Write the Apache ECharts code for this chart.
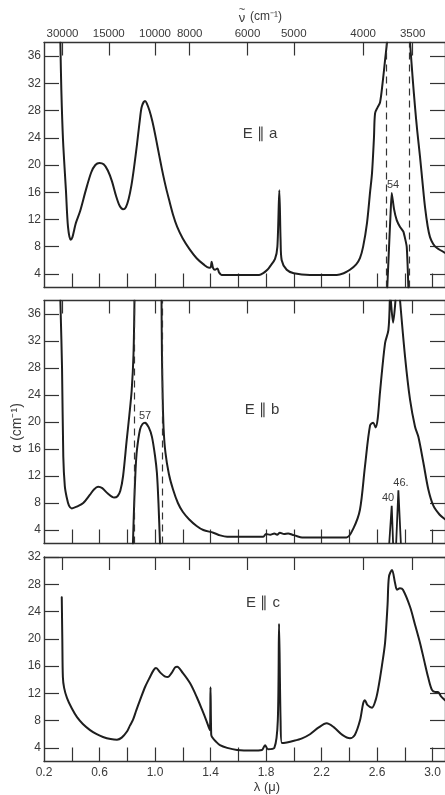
<!DOCTYPE html>
<html>
<head>
<meta charset="utf-8">
<script src="https://cdn.jsdelivr.net/npm/echarts@6/dist/echarts.min.js"></script>
<style>
html,body{margin:0;padding:0;background:#fff;}
#c{width:445px;height:795px;}
</style>
</head>
<body>
<div id="c"></div>
<script>
// ---- axis tick / label values ----
const xTickVals = [0.4,0.6,0.8,1.0,1.2,1.4,1.6,1.8,2.0,2.2,2.4,2.6,2.8,3.0];
const xLabelVals = [0.2,0.6,1.0,1.4,1.8,2.2,2.6,3.0];
const topNu = [30000,15000,10000,8000,6000,5000,4000,3500];   // wavenumber (cm^-1)
const yTicksAB = [4,8,12,16,20,24,28,32,36];
const yTicksC = [4,8,12,16,20,24,28,32];

// ---- E || a ----
const curveA = [[0.318,38],[0.325,31],[0.337,23.7],[0.358,16.3],[0.373,10.9],[0.392,9.0],[0.405,9.4],[0.418,10.5],[0.43,11.5],[0.46,13.2],[0.50,16.2],[0.54,18.9],[0.57,20.0],[0.60,20.3],[0.63,20.1],[0.66,19.2],[0.69,17.6],[0.72,15.4],[0.745,14.0],[0.77,13.5],[0.79,13.8],[0.81,15.0],[0.83,17.0],[0.85,19.8],[0.87,23.0],[0.89,26.5],[0.905,28.6],[0.928,29.4],[0.94,29.1],[0.96,28.0],[0.98,26.5],[1.0,24.6],[1.02,22.5],[1.04,20.4],[1.06,18.4],[1.08,16.6],[1.10,15.0],[1.13,12.7],[1.16,10.9],[1.2,9.2],[1.25,7.6],[1.30,6.3],[1.35,5.4],[1.39,4.9],[1.402,5.0],[1.408,5.8],[1.418,4.9],[1.432,4.6],[1.45,4.8],[1.462,4.2],[1.48,3.85],[1.75,3.85],[1.78,4.1],[1.81,4.6],[1.829,5.1],[1.865,6.2],[1.882,8],[1.896,16.3],[1.905,9],[1.913,6.0],[1.949,4.6],[2.0,4.1],[2.117,3.85],[2.31,3.85],[2.36,4.1],[2.405,4.6],[2.45,5.4],[2.477,6.3],[2.50,8.0],[2.528,11.5],[2.55,16],[2.564,18.8],[2.578,24],[2.586,27.6],[2.605,28.5],[2.622,29.2],[2.64,32],[2.658,35.4],[2.672,38],[2.75,null],[2.838,38],[2.856,33],[2.874,28.5],[2.89,25],[2.91,21.2],[2.93,17],[2.946,13.8],[2.965,11],[2.982,9.4],[3.005,8.4],[3.032,7.8],[3.09,7.1]];
const peakA54 = [[2.674,2],[2.689,9],[2.698,13],[2.706,15.9],[2.722,13.6],[2.742,11.9],[2.766,10.9],[2.79,10.2],[2.814,8.0],[2.826,2]];
const dashA = [2.665, 2.831];

// ---- E || b ----
const curveB = [[0.318,38],[0.33,28],[0.339,14.9],[0.35,10.5],[0.363,8.9],[0.38,7.6],[0.40,7.2],[0.44,7.5],[0.483,8.0],[0.53,9.2],[0.56,10.0],[0.59,10.4],[0.62,10.2],[0.66,9.4],[0.705,8.8],[0.73,9.0],[0.75,9.8],[0.77,12],[0.796,17.3],[0.815,21],[0.832,24.7],[0.845,30],[0.852,38],[0.95,null],[1.047,38],[1.05,30],[1.055,24],[1.062,19],[1.075,15.5],[1.10,12.3],[1.13,10],[1.165,8.0],[1.2,6.7],[1.245,5.6],[1.30,4.6],[1.348,4.0],[1.42,3.6],[1.47,3.2],[1.52,3.0],[1.78,3.0],[1.80,3.4],[1.83,3.3],[1.86,3.5],[1.88,3.3],[1.90,3.6],[1.93,3.4],[1.96,3.5],[1.99,3.3],[2.02,3.1],[2.06,2.9],[2.38,2.9],[2.43,4.25],[2.477,7.0],[2.513,13.4],[2.55,19.5],[2.573,19.9],[2.59,19.2],[2.605,20.5],[2.622,24.5],[2.658,31.7],[2.682,33.6],[2.692,38],[2.696,null],[2.70,38],[2.716,34.7],[2.733,38],[2.75,null],[2.766,38],[2.802,29.7],[2.838,23.3],[2.874,19.3],[2.898,17.8],[2.934,14],[2.97,10],[3.006,7.6],[3.05,6.3],[3.09,5.6]];
const peakB57 = [[0.841,2],[0.85,8],[0.86,13],[0.87,15.9],[0.892,18.9],[0.91,19.7],[0.928,19.9],[0.955,19.2],[0.978,17.8],[1.0,15],[1.014,12.4],[1.025,8],[1.036,2]];
const peakB40 = [[2.688,2],[2.706,7.6],[2.716,2]];
const peakB46 = [[2.738,2],[2.754,9.9],[2.772,2]];
const dashB = [0.851, 1.047];

// ---- E || c ----
const curveC = [[0.328,26.1],[0.332,20],[0.336,14.4],[0.345,12.8],[0.366,11.3],[0.40,9.8],[0.438,8.5],[0.48,7.5],[0.532,6.6],[0.58,6.0],[0.625,5.6],[0.68,5.3],[0.726,5.2],[0.76,5.5],[0.798,6.4],[0.82,7.3],[0.841,8.1],[0.865,9.5],[0.892,11.0],[0.93,13],[0.964,14.4],[0.99,15.4],[1.007,15.7],[1.04,15.0],[1.07,14.5],[1.094,14.4],[1.12,15.0],[1.145,15.8],[1.16,15.9],[1.2,15.0],[1.252,13.5],[1.3,11.5],[1.339,9.6],[1.37,8.0],[1.395,6.6],[1.400,12.9],[1.405,6.0],[1.411,5.6],[1.44,4.9],[1.468,4.4],[1.52,4.0],[1.591,3.7],[1.70,3.6],[1.771,3.7],[1.793,4.4],[1.814,3.8],[1.86,4.0],[1.885,8],[1.894,22.2],[1.905,8],[1.915,4.7],[1.95,4.8],[1.995,5.0],[2.06,5.4],[2.117,6.0],[2.18,7.0],[2.237,7.6],[2.29,7.0],[2.35,5.9],[2.405,5.4],[2.44,5.9],[2.477,8.0],[2.50,10.5],[2.513,11.0],[2.53,10.3],[2.564,9.9],[2.59,11],[2.607,12.5],[2.635,16],[2.658,19.4],[2.676,25],[2.686,29.1],[2.708,30.1],[2.73,28.2],[2.744,27.2],[2.765,27.4],[2.787,27.2],[2.838,24.7],[2.875,22],[2.91,19.4],[2.94,16.8],[2.968,14.4],[2.996,12.5],[3.02,12.2],[3.04,12.2],[3.06,11.6],[3.09,11]];

// ---- layout ----
const X_MIN = 0.2, X_MAX = 3.09;
const INK = '#1e1e1e', FRAME = '#333', TXT = '#3a3a3a';
const FONT = 'Liberation Sans';
const grids = [
  {left:44, width:401, top:42.5, height:245},
  {left:44, width:401, top:300.5, height:243},
  {left:44, width:401, top:557, height:204.5}
];
const topLam = topNu.map(n => 10000 / n);
function nuLabel(v){
  let best = 0;
  topLam.forEach((l,i)=>{ if (Math.abs(l-v) < Math.abs(topLam[best]-v)) best = i; });
  return String(topNu[best]);
}

const xAxes = [], yAxes = [];
const lineCommon = {show:true, onZero:false, lineStyle:{color:FRAME, width:1.4}};
grids.forEach((g,i)=>{
  xAxes.push({
    gridIndex:i, type:'value', position:'bottom', min:X_MIN, max:X_MAX,
    axisLine:lineCommon, splitLine:{show:false},
    axisTick:{show:true, inside:true, length:14, customValues:xTickVals, lineStyle:{color:FRAME, width:1.2}},
    axisLabel:{show:i===2, customValues:xLabelVals, formatter:v=>v.toFixed(1), color:TXT, fontSize:12, fontFamily:FONT, margin:5}
  });
  xAxes.push({
    gridIndex:i, type:'value', position:'top', min:X_MIN, max:X_MAX,
    axisLine:lineCommon, splitLine:{show:false},
    axisTick:{show:true, inside:true, length:13, customValues:topLam, lineStyle:{color:FRAME, width:1.2}},
    axisLabel:{show:i===0, customValues:topLam, formatter:nuLabel, color:TXT, fontSize:11.5, fontFamily:FONT, margin:3}
  });
  const yt = i===2 ? yTicksC : yTicksAB;
  const ymax = i===2 ? 32 : 38;
  yAxes.push({
    gridIndex:i, type:'value', position:'left', min:2, max:ymax,
    axisLine:lineCommon, splitLine:{show:false},
    axisTick:{show:true, inside:true, length:15, customValues:yt, lineStyle:{color:FRAME, width:1.2}},
    axisLabel:{show:true, customValues:yt, color:TXT, fontSize:12, fontFamily:FONT, margin:3}
  });
  yAxes.push({
    gridIndex:i, type:'value', position:'right', min:2, max:ymax,
    axisLine:lineCommon, splitLine:{show:false},
    axisTick:{show:true, inside:true, length:15, customValues:yt, lineStyle:{color:FRAME, width:1.2}},
    axisLabel:{show:false}
  });
});

function line(data, gi, extra){
  return Object.assign({
    type:'line', data:data, xAxisIndex:gi*2, yAxisIndex:gi*2,
    showSymbol:false, symbol:'none', smooth:0.3, connectNulls:false,
    lineStyle:{color:INK, width:2, join:'round', cap:'round'}, silent:true, animation:false, clip:true
  }, extra||{});
}
function dashes(vals){
  return {symbol:'none', silent:true, label:{show:false},
    lineStyle:{type:[7,5], color:FRAME, width:1.2},
    data: vals.map(v=>({xAxis:v}))};
}

const series = [
  line(curveA,0),
  line(peakA54,0,{smooth:0.15, markLine:dashes(dashA)}),
  line(curveB,1),
  line(peakB57,1,{smooth:0.2, markLine:dashes(dashB)}),
  line(peakB40,1,{smooth:false, lineStyle:{color:INK,width:1.8}}),
  line(peakB46,1,{smooth:false, lineStyle:{color:INK,width:1.8}}),
  line(curveC,2)
];

function txt(x,y,s,size,extra){
  return Object.assign({type:'text', x:x, y:y, silent:true,
    style:{text:s, fill:TXT, font:size+'px "'+FONT+'"', textAlign:'center', textVerticalAlign:'middle'}}, extra||{});
}

const chart = echarts.init(document.getElementById('c'), null, {renderer:'canvas'});
chart.setOption({
  animation:false,
  backgroundColor:'#fff',
  grid:grids,
  xAxis:xAxes,
  yAxis:yAxes,
  series:series,
  graphic:[
    txt(242,18,'ν',13),
    txt(242,10,'~',11),
    txt(250,17,'(cm⁻¹)',12,{style:{text:'(cm⁻¹)', fill:TXT, font:'12px "'+FONT+'"', textAlign:'left', textVerticalAlign:'middle'}}),
    txt(267,787,'λ (μ)',13),
    txt(17,428,'α (cm⁻¹)',14,{rotation:Math.PI/2}),
    txt(260,134,'E ∥ a',15),
    txt(262,410,'E ∥ b',15),
    txt(263,603,'E ∥ c',15),
    txt(393,185,'54',11),
    txt(145,416,'57',11),
    txt(388,498,'40',11),
    txt(401,483,'46.',11)
  ]
});
</script>
</body>
</html>
